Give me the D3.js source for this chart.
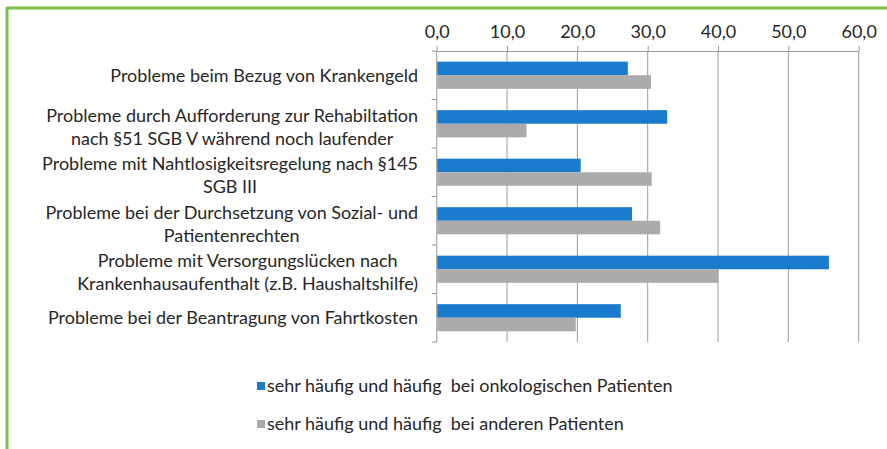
<!DOCTYPE html>
<html>
<head>
<meta charset="utf-8">
<script src="https://cdn.jsdelivr.net/npm/d3@7"></script>
<style>
  html, body { margin: 0; padding: 0; background: #fff; }
  svg { display: block; }
  text { font-family: Lato, "Open Sans", sans-serif; fill: #262626; }
</style>
</head>
<body>
<svg id="chart" width="887" height="449"></svg>
<script>
// ---- data ----
const categories = [
  ["Probleme beim Bezug von Krankengeld"],
  ["Probleme durch Aufforderung zur Rehabiltation", "nach §51 SGB V während noch laufender"],
  ["Probleme mit Nahtlosigkeitsregelung nach §145", "SGB III"],
  ["Probleme bei der Durchsetzung von Sozial- und", "Patientenrechten"],
  ["Probleme mit Versorgungslücken nach", "Krankenhausaufenthalt (z.B. Haushaltshilfe)"],
  ["Probleme bei der Beantragung von Fahrtkosten"]
];
const onkologisch = [27.1, 32.7, 20.4, 27.7, 55.7, 26.1];
const andere = [30.4, 12.7, 30.5, 31.7, 40.0, 19.7];
const seriesNames = [
  "sehr häufig und häufig  bei onkologischen Patienten",
  "sehr häufig und häufig  bei anderen Patienten"
];
const tickValues = [0, 10, 20, 30, 40, 50, 60];
const tickLabels = ["0,0", "10,0", "20,0", "30,0", "40,0", "50,0", "60,0"];

// ---- layout ----
const svg = d3.select("#chart");
const colors = ["#1a7acb", "#ababab"];
const plot = { left: 436.7, right: 858.7, top: 51, bottom: 342 };

// fit font size so the first label has the reference width (~308px)
const probe = svg.append("text").attr("font-size", 20).text(categories[0][0]);
const fs = 20 * 308 / probe.node().getComputedTextLength();
probe.remove();

// green frame
svg.append("line").attr("x1", 7).attr("x2", 887).attr("y1", 8).attr("y2", 8)
  .attr("stroke", "#7cc04a").attr("stroke-width", 3);
svg.append("line").attr("x1", 7).attr("x2", 7).attr("y1", 7).attr("y2", 449)
  .attr("stroke", "#7cc04a").attr("stroke-width", 3);

const x = d3.scaleLinear().domain([0, 60]).range([plot.left, plot.right]);
const y = d3.scaleBand().domain(d3.range(categories.length))
  .range([plot.top, plot.bottom]).paddingInner(0.44).paddingOuter(0.22);
const ySub = d3.scaleBand().domain([0, 1]).range([0, y.bandwidth()]);

// gridlines
svg.append("g").selectAll("line").data(tickValues.slice(1)).join("line")
  .attr("x1", d => x(d)).attr("x2", d => x(d))
  .attr("y1", plot.top).attr("y2", plot.bottom)
  .attr("stroke", "#a39b95").attr("stroke-width", 1);

// top axis
const xAxis = d3.axisTop(x).tickValues(tickValues)
  .tickFormat((d, i) => tickLabels[i]).tickSizeInner(5).tickSizeOuter(0).tickPadding(8);
const gx = svg.append("g").attr("transform", `translate(0,${plot.top})`).call(xAxis);
gx.select(".domain").attr("stroke", "#9a9a9a");
gx.selectAll(".tick line").attr("stroke", "#9a9a9a");
gx.selectAll(".tick text").attr("font-size", fs).attr("fill", "#262626")
  .style("font-family", "Lato, 'Open Sans', sans-serif");

// left axis line + ticks at category boundaries
svg.append("line").attr("x1", plot.left).attr("x2", plot.left)
  .attr("y1", plot.top).attr("y2", plot.bottom).attr("stroke", "#9a9a9a");
const step = (plot.bottom - plot.top) / categories.length;
svg.append("g").selectAll("line").data(d3.range(categories.length + 1)).join("line")
  .attr("x1", plot.left - 5).attr("x2", plot.left)
  .attr("y1", d => plot.top + d * step).attr("y2", d => plot.top + d * step)
  .attr("stroke", "#9a9a9a");

// bars
const series = [onkologisch, andere];
series.forEach((vals, s) => {
  svg.append("g").selectAll("rect").data(vals).join("rect")
    .attr("x", x(0) + 0.5)
    .attr("y", (d, i) => y(i) + ySub(s))
    .attr("width", d => x(d) - x(0))
    .attr("height", ySub.bandwidth())
    .attr("fill", colors[s]);
});

// category labels
const labelRight = 418;
const lineH = 23;
const labG = svg.append("g");
categories.forEach((lines, i) => {
  const cy = plot.top + (i + 0.5) * step + (lines.length > 1 ? 3 : 0);
  const g = labG.append("g");
  const texts = lines.map((t, j) => g.append("text")
    .attr("font-size", fs)
    .attr("text-anchor", "middle")
    .attr("y", cy + (j - (lines.length - 1) / 2) * lineH)
    .attr("dy", "0.35em")
    .text(t));
  const widths = texts.map(t => t.node().getComputedTextLength());
  const maxW = d3.max(widths);
  texts.forEach(t => t.attr("x", labelRight - maxW / 2));
});

// legend
const leg = svg.append("g");
seriesNames.forEach((name, i) => {
  const ly = 386 + i * 38;
  leg.append("rect").attr("x", 257).attr("y", ly - 4).attr("width", 8).attr("height", 8)
    .attr("fill", colors[i]);
  leg.append("text").attr("x", 267).attr("y", ly).attr("dy", "0.35em")
    .attr("font-size", fs).attr("xml:space", "preserve").style("white-space", "pre")
    .text(name);
});
</script>
</body>
</html>
